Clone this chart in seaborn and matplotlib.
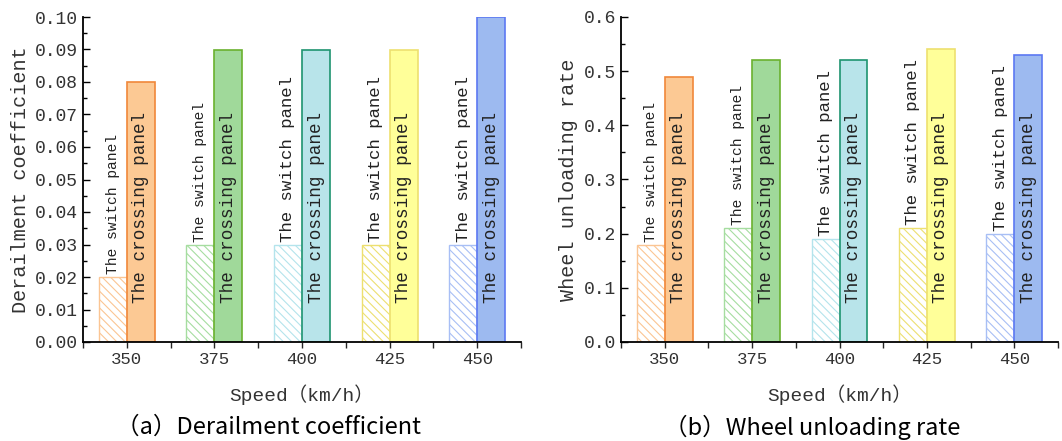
import numpy as np
import pandas as pd
import matplotlib
matplotlib.use("Agg")
import matplotlib.pyplot as plt
import seaborn as sns
from matplotlib.ticker import MultipleLocator, FormatStrFormatter

# data
speeds = ["350", "375", "400", "425", "450"]
derail_switch = [0.02, 0.03, 0.03, 0.03, 0.03]
derail_crossing = [0.08, 0.09, 0.09, 0.09, 0.10]
unload_switch = [0.18, 0.21, 0.19, 0.21, 0.20]
unload_crossing = [0.49, 0.52, 0.52, 0.54, 0.53]
panels = ["The switch panel", "The crossing panel"]

# colours per speed
fill_cols = ["#FCC994", "#A0D99A", "#B8E4EA", "#FFFF99", "#9DBAF0"]
edge_cols = ["#F0883A", "#6BB12F", "#1E9470", "#EDE070", "#5C78F2"]
hatch_cols = ["#FBC593", "#A6DDA0", "#B4E4EC", "#EDE070", "#A8BFF5"]
switch_fs = [10.5, 10.5, 12.5, 12.5, 12.5]

sns.set_style("white")
mono = ["Liberation Mono", "Noto Sans CJK SC"]
plt.rcParams["font.family"] = mono
plt.rcParams["hatch.linewidth"] = 0.8

fig = plt.figure(figsize=(10.62, 4.41), dpi=100)
ax1 = fig.add_axes([83 / 1062, 1 - 342 / 441, 438 / 1062, 325 / 441])
ax2 = fig.add_axes([621 / 1062, 1 - 342 / 441, 437 / 1062, 325 / 441])


def make_df(sw, cr):
    return pd.DataFrame({
        "speed": speeds * 2,
        "value": sw + cr,
        "panel": [panels[0]] * 5 + [panels[1]] * 5,
    })


def draw(ax, df, ymax, ystep, fmt, ylabel):
    sns.barplot(data=df, x="speed", y="value", hue="panel", order=speeds,
                hue_order=panels, width=0.64, dodge=True, legend=False, ax=ax)
    for p in ax.patches:
        cx = p.get_x() + p.get_width() / 2
        i = int(round(cx))
        if cx < i:
            # switch panel: white with hatch
            p.set_facecolor("white")
            p.set_edgecolor(hatch_cols[i])
            p.set_hatch("\\\\\\\\")
            p.set_linewidth(1.0)
            ax.annotate(panels[0], (cx, p.get_height()), xytext=(0, 2),
                        textcoords="offset points", rotation=90,
                        ha="center", va="bottom", fontsize=switch_fs[i],
                        color="#222222")
        else:
            p.set_facecolor(fill_cols[i])
            p.set_edgecolor(edge_cols[i])
            p.set_linewidth(1.2)
            ax.text(cx, 0.12 * ymax, panels[1], rotation=90, ha="center",
                    va="bottom", fontsize=12.7, color="#222222")
    ax.set_xlim(-0.5, 4.5)
    ax.set_ylim(0, ymax)
    ax.yaxis.set_major_locator(MultipleLocator(ystep))
    ax.yaxis.set_minor_locator(MultipleLocator(ystep / 2))
    ax.yaxis.set_major_formatter(FormatStrFormatter(fmt))
    ax.set_xticks(np.arange(-0.5, 5, 1), minor=True)
    sns.despine(ax=ax)
    for s in ["left", "bottom"]:
        ax.spines[s].set_color("black")
        ax.spines[s].set_linewidth(1.3)
    ax.tick_params(axis="y", which="both", direction="in", left=True,
                   labelsize=13, colors="black", labelcolor="#333333")
    ax.tick_params(axis="y", which="major", length=5, width=1)
    ax.tick_params(axis="y", which="minor", length=3, width=1)
    ax.tick_params(axis="x", which="both", direction="out", bottom=True,
                   length=4, width=1, labelsize=12.5, labelcolor="#333333")
    ax.set_xlabel("Speed（km/h）", fontsize=14, color="#333333", labelpad=12)
    ax.set_ylabel(ylabel, fontsize=14.5, color="#333333", labelpad=4)


draw(ax1, make_df(derail_switch, derail_crossing), 0.10, 0.01, "%.2f",
     "Derailment coefficient")
draw(ax2, make_df(unload_switch, unload_crossing), 0.6, 0.1, "%.1f",
     "Wheel unloading rate")

fig.text(268 / 1062, 1 - 427 / 441, "（a）Derailment coefficient",
         family=["Noto Sans CJK SC", "DejaVu Sans"], fontsize=17,
         ha="center", va="center", color="black")
fig.text(812 / 1062, 1 - 427 / 441, "（b）Wheel unloading rate",
         family=["Noto Sans CJK SC", "DejaVu Sans"], fontsize=17,
         ha="center", va="center", color="black")

fig.savefig("out.png", dpi=100)
